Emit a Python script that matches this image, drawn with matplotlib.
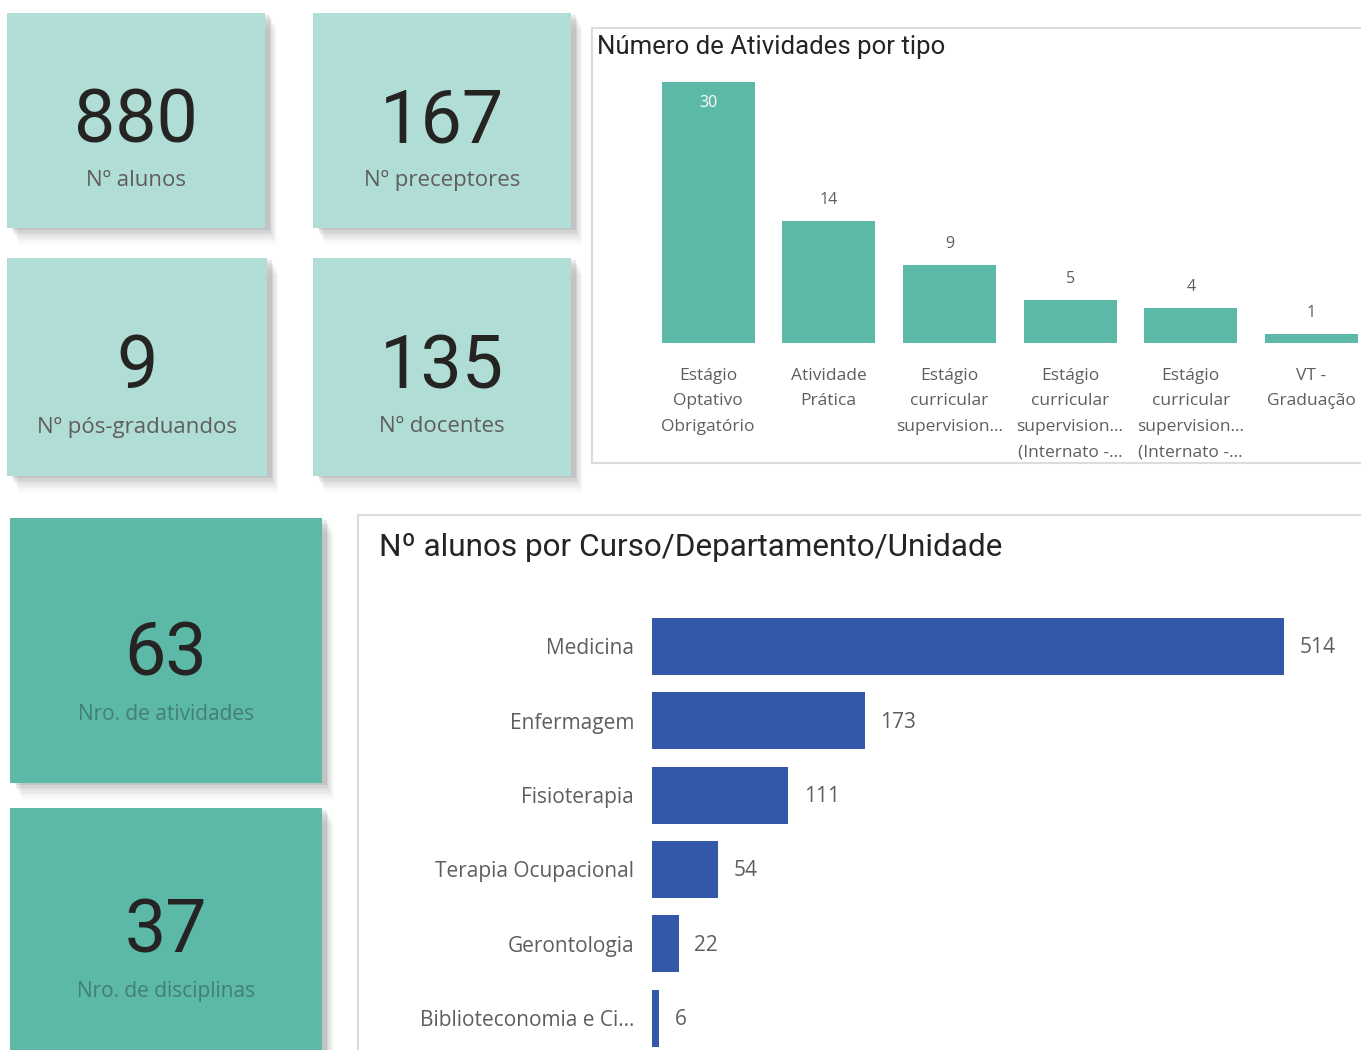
import matplotlib
matplotlib.use("Agg")
import matplotlib.pyplot as plt
from matplotlib.patches import Rectangle

# ---------------- data ----------------
kpi_values = ["880", "167", "9", "135"]
kpi_labels = ["Nº alunos", "Nº preceptores", "Nº pós-graduandos", "Nº docentes"]
kpi2_values = ["63", "37"]
kpi2_labels = ["Nro. de atividades", "Nro. de disciplinas"]

act_title = "Número de Atividades por tipo"
act_types = ["Estágio\nOptativo\nObrigatório", "Atividade\nPrática",
             "Estágio\ncurricular\nsupervision...",
             "Estágio\ncurricular\nsupervision...\n(Internato -...",
             "Estágio\ncurricular\nsupervision...\n(Internato -...",
             "VT -\nGraduação"]
act_counts = [30, 14, 9, 5, 4, 1]

course_title = "Nº alunos por Curso/Departamento/Unidade"
courses = ["Medicina", "Enfermagem", "Fisioterapia", "Terapia Ocupacional",
           "Gerontologia", "Biblioteconomia e Ci..."]
students = [514, 173, 111, 54, 22, 6]

# ---------------- styles ----------------
W, H = 1361, 1050
LIGHT = "#b0ddd6"
TEAL = "#5cb8a7"
BLUE = "#3358a8"
DARK = "#252423"
GREY = "#605e5c"

fig = plt.figure(figsize=(W / 100, H / 100), dpi=100)
fig.patch.set_facecolor("white")

def fbox(x0, y0, x1, y1):
    return [x0 / W, 1 - y1 / H, (x1 - x0) / W, (y1 - y0) / H]

bg = fig.add_axes([0, 0, 1, 1], zorder=0)
bg.set_xlim(0, W)
bg.set_ylim(H, 0)
bg.axis("off")

def card(x0, y0, x1, y1, color):
    for i, a in enumerate([0.14, 0.11, 0.08, 0.06, 0.045, 0.03, 0.02]):
        off = 2 + i * 2.5
        bg.add_patch(Rectangle((x0 + 4 + off * 0.5, y0 + off), x1 - x0, y1 - y0,
                               facecolor="#707070", alpha=a, lw=0, zorder=1))
    bg.add_patch(Rectangle((x0, y0), x1 - x0, y1 - y0, facecolor=color, lw=0, zorder=2))

# light KPI cards: box, number y, label y
boxes = [(7, 13, 265, 228), (313, 13, 571, 228), (7, 258, 267, 476), (313, 258, 571, 476)]
num_y = [122, 122, 368, 368]
lab_y = [180, 180, 427, 426]
for (x0, y0, x1, y1), v, lab, ny, ly in zip(boxes, kpi_values, kpi_labels, num_y, lab_y):
    card(x0, y0, x1, y1, LIGHT)
    cx = (x0 + x1) / 2
    bg.text(cx, ny, v, ha="center", va="center", fontsize=53,
            family="Roboto", color=DARK, zorder=3)
    bg.text(cx, ly, lab, ha="center", va="center", fontsize=16,
            family="Open Sans", color=GREY, zorder=3)

# dark KPI cards
boxes2 = [(10, 518, 322, 783), (10, 808, 322, 1075)]
num2_y = [655, 932]
lab2_y = [715, 991]
for (x0, y0, x1, y1), v, lab, ny, ly in zip(boxes2, kpi2_values, kpi2_labels, num2_y, lab2_y):
    card(x0, y0, x1, y1, TEAL)
    cx = (x0 + x1) / 2
    bg.text(cx, ny, v, ha="center", va="center", fontsize=53,
            family="Roboto", color=DARK, zorder=3)
    bg.text(cx, ly, lab, ha="center", va="center", fontsize=15,
            family="Open Sans", color="#437f75", zorder=3)

# panel borders
bg.add_patch(Rectangle((592, 28), 800, 435, facecolor="white",
                       edgecolor="#dcdcdc", lw=1.5, zorder=2))
bg.add_patch(Rectangle((358, 515), 1100, 600, facecolor="white",
                       edgecolor="#dcdcdc", lw=1.5, zorder=2))
bg.text(597, 47, act_title, ha="left", va="center", fontsize=18.5,
        family="Roboto", color=DARK, zorder=3)
bg.text(379, 547, course_title, ha="left", va="center", fontsize=22.7,
        family="Roboto", color=DARK, zorder=3)

# ---------------- top bar chart ----------------
pitch = 120.7
left_px = 708 - 0.5 * pitch
ax1 = fig.add_axes(fbox(left_px, 70, W, 343), zorder=5)
ax1.patch.set_alpha(0)
xs = list(range(len(act_counts)))
ax1.bar(xs, act_counts, width=93 / pitch, color=TEAL)
ax1.set_xlim(-0.5, (W - 708) / pitch)
ax1.set_ylim(0, (343 - 70) / 8.7)
for s in ax1.spines.values():
    s.set_visible(False)
ax1.set_yticks([])
ax1.set_xticks(xs)
ax1.set_xticklabels(act_types, fontsize=12.5, family="Open Sans", color=GREY)
ax1.tick_params(axis="x", length=0, pad=18)
for t in ax1.get_xticklabels():
    t.set_linespacing(1.78)
for x, v in zip(xs, act_counts):
    if v == max(act_counts):
        ax1.annotate(str(v), (x, v), xytext=(0, -15), textcoords="offset points",
                     ha="center", va="center", fontsize=11.5, family="Open Sans", color="white")
    else:
        ax1.annotate(str(v), (x, v), xytext=(0, 15), textcoords="offset points",
                     ha="center", va="center", fontsize=11.5, family="Open Sans", color=GREY)

# ---------------- bottom bar chart ----------------
bpitch = 74.3
c0 = 646.5
top_px, bot_px = 590, H
ax2 = fig.add_axes(fbox(652, top_px, W, bot_px), zorder=5)
ax2.patch.set_alpha(0)
ys = list(range(len(students)))
ax2.barh(ys, students, height=57 / bpitch, color=BLUE)
scale = (1284 - 652) / 514
ax2.set_xlim(0, (W - 652) / scale)
ax2.set_ylim((bot_px - c0) / bpitch, (top_px - c0) / bpitch)
for s in ax2.spines.values():
    s.set_visible(False)
ax2.set_xticks([])
ax2.set_yticks(ys)
ax2.set_yticklabels(courses, fontsize=15, family="Open Sans", color=GREY)
ax2.tick_params(axis="y", length=0, pad=13)
for y, v in zip(ys, students):
    ax2.annotate(str(v), (v, y), xytext=(11, -1), textcoords="offset points",
                 ha="left", va="center", fontsize=15, family="Open Sans", color=GREY)

fig.savefig("out.png", dpi=100)
